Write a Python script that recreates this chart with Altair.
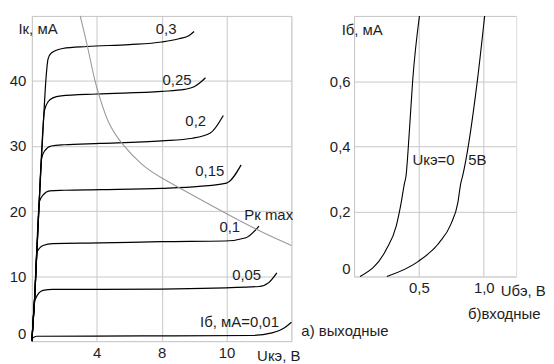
import altair as alt
import pandas as pd

FONT = "Liberation Sans"
TXT = "#1e1e1e"
GRID = "#c8c8c8"

# ---------- a) output characteristics: Uce (V) -> Ic (mA), one curve per Ib ----------
ib_names = ["0.3", "0.25", "0.2", "0.15", "0.1", "0.05", "0.01"]
uce_03 = [0, 0.18, 0.45, 0.74, 0.86, 1.0, 1.2, 1.9, 3.4, 6.0, 8.0, 9.07, 9.7, 10.0]
ic_03 = [0, 7.0, 21.3, 35.0, 40.0, 43.4, 44.3, 45.0, 45.3, 45.6, 46.0, 46.5, 47.0, 47.6]
uce_025 = [0, 0.18, 0.45, 0.78, 1.0, 1.3, 1.8, 4.0, 8.0, 9.4, 10.0, 10.4, 10.7]
ic_025 = [0, 7.0, 21.3, 35.5, 36.8, 37.4, 37.7, 38.0, 38.4, 38.7, 39.1, 39.8, 40.5]
uce_02 = [0, 0.18, 0.45, 0.6, 0.8, 1.2, 2.0, 4.2, 8.0, 9.9, 11.0, 11.8]
ic_02 = [0, 7.0, 21.3, 28.1, 29.3, 30.0, 30.2, 30.4, 30.8, 31.2, 32.0, 34.7]
uce_015 = [0, 0.18, 0.47, 0.7, 1.1, 2.0, 4.2, 8.0, 10.3, 12.0, 12.9]
ic_015 = [0, 7.0, 21.5, 22.5, 23.1, 23.2, 23.3, 23.5, 23.8, 24.3, 27.1]
uce_01 = [0, 0.18, 0.3, 0.69, 1.3, 4.2, 8.0, 11.9, 13.2, 14.0]
ic_01 = [0, 7.0, 13.6, 14.7, 15.0, 15.1, 15.3, 15.4, 15.9, 17.7]
uce_005 = [0, 0.2, 0.69, 1.3, 4.2, 8.0, 14.0, 14.6, 15.1]
ic_005 = [0, 6.4, 7.8, 7.95, 7.95, 8.0, 8.4, 9.0, 10.5]
uce_001 = [0, 0.06, 0.3, 6.8, 13.6, 14.8, 15.6, 16.0]
ic_001 = [0, 0.5, 0.75, 0.8, 0.87, 1.27, 2.1, 2.9]

# Pk max hyperbola
pk_uce = [2.98, 3.45, 3.86, 4.17, 4.68, 5.5, 6.82, 7.85, 9.07, 11.53, 13.78, 16.0]
pk_ic = [50.0, 45.2, 40.1, 37.6, 33.5, 30.4, 26.9, 25.3, 23.6, 20.2, 17.2, 14.7]

# labels on the output plot
out_lab_text = ["0,3", "0,25", "0,2", "0,15", "0,1", "0,05", "Iб, мА=0,01", "Pк max", "а) выходные"]
out_lab_u = [8.28, 8.95, 10.1, 10.97, 12.2, 13.24, 12.8, 14.6, 19.3]
out_lab_i = [48.0, 40.2, 33.8, 26.1, 17.6, 10.2, 2.9, 19.4, 1.5]

out_x_ticks = [0, 2, 4, 6, 8, 10, 12, 14, 16]
out_y_ticks = [0, 5, 10, 15, 20, 25, 30, 35, 40, 45, 50]

# ---------- b) input characteristics: Ube (V) -> Ib (mA) ----------
in_names = ["0", "5"]
ube_0 = [0.046, 0.248, 0.325, 0.363, 0.389, 0.40, 0.427, 0.452, 0.504]
ib_0 = [0.0, 0.083, 0.155, 0.226, 0.287, 0.307, 0.45, 0.602, 0.8]
ube_5 = [0.253, 0.49, 0.657, 0.746, 0.8, 0.823, 0.836, 0.951, 1.007]
ib_5 = [0.0, 0.045, 0.104, 0.16, 0.226, 0.287, 0.307, 0.602, 0.8]

in_lab_text = ["Uкэ=0", "5В", "б)входные"]
in_lab_u = [0.613, 0.95, 1.158]
in_lab_i = [0.357, 0.357, -0.116]

in_x_ticks = [0, 0.25, 0.5, 0.75, 1.0, 1.25]
in_y_ticks = [0, 0.1, 0.2, 0.3, 0.4, 0.5, 0.6, 0.7, 0.8]

# ---------- tables ----------
rows = []
for name, us, cs in zip(ib_names,
                        [uce_03, uce_025, uce_02, uce_015, uce_01, uce_005, uce_001],
                        [ic_03, ic_025, ic_02, ic_015, ic_01, ic_005, ic_001]):
    for i, (u, c) in enumerate(zip(us, cs)):
        rows.append({"ib": name, "u": u, "i": c, "o": i})
out_df = pd.DataFrame(rows)
pk_df = pd.DataFrame({"u": pk_uce, "i": pk_ic, "o": range(len(pk_uce))})
out_lab_df = pd.DataFrame({"t": out_lab_text, "u": out_lab_u, "i": out_lab_i})

rows = []
for name, us, cs in zip(in_names, [ube_0, ube_5], [ib_0, ib_5]):
    for i, (u, c) in enumerate(zip(us, cs)):
        rows.append({"uce": name, "u": u, "i": c, "o": i})
in_df = pd.DataFrame(rows)
in_lab_df = pd.DataFrame({"t": in_lab_text, "u": in_lab_u, "i": in_lab_i})

common_axis = dict(grid=True, gridColor=GRID, gridOpacity=1, gridWidth=1, domain=False,
                   ticks=False, labelFont=FONT, labelFontSize=15, labelColor=TXT,
                   titleFont=FONT, titleFontSize=15, titleColor=TXT, titleFontWeight="normal",
                   titleAngle=0, titleBaseline="middle", titleAlign="left")

ox = alt.X("u:Q", scale=alt.Scale(domain=[0, 16], nice=False, zero=False),
           axis=alt.Axis(values=out_x_ticks, title="Uкэ, В", titleX=226, titleY=14,
                         labelPadding=4,
                         labelExpr="datum.value==4 ? '4' : datum.value==8 ? '8' : datum.value==12 ? '10' : ''",
                         **common_axis))
oy = alt.Y("i:Q", scale=alt.Scale(domain=[0, 50], nice=False, zero=False),
           axis=alt.Axis(values=out_y_ticks, title="Iк, мА", titleX=-14, titleY=13,
                         labelPadding=6, labelFlush=True,
                         labelExpr="(datum.value % 10 == 0 && datum.value < 50) ? datum.value : ''",
                         **common_axis))

out_lines = alt.Chart(out_df).mark_line(color="#000000", strokeWidth=1.2, interpolate="monotone").encode(
    x=ox, y=oy, detail="ib:N", order="o:Q")
pk_line = alt.Chart(pk_df).mark_line(color="#9a9a9a", strokeWidth=1.1, interpolate="basis").encode(
    x="u:Q", y="i:Q", order="o:Q")
out_text = alt.Chart(out_lab_df).mark_text(font=FONT, fontSize=15, color=TXT).encode(
    x="u:Q", y="i:Q", text="t:N")
left = alt.layer(out_lines, pk_line, out_text).properties(width=261, height=327)

ix = alt.X("u:Q", scale=alt.Scale(domain=[0, 1.25], nice=False, zero=False),
           axis=alt.Axis(values=in_x_ticks, title="Uбэ, В", titleX=147, titleY=14,
                         labelPadding=4,
                         labelExpr="datum.value==0.5 ? '0,5' : datum.value==1 ? '1,0' : ''",
                         **common_axis))
iy = alt.Y("i:Q", scale=alt.Scale(domain=[0, 0.8], nice=False, zero=False),
           axis=alt.Axis(values=in_y_ticks, title="Iб, мА", titleX=-13, titleY=14,
                         labelPadding=4, labelFlush=True,
                         labelExpr="datum.value==0 ? '0' : abs(datum.value-0.2)<0.01 ? '0,2' : abs(datum.value-0.4)<0.01 ? '0,4' : abs(datum.value-0.6)<0.01 ? '0,6' : ''",
                         **common_axis))
in_lines = alt.Chart(in_df).mark_line(color="#000000", strokeWidth=1.1, interpolate="monotone").encode(
    x=ix, y=iy, detail="uce:N", order="o:Q")
in_text = alt.Chart(in_lab_df).mark_text(font=FONT, fontSize=15, color=TXT).encode(
    x="u:Q", y="i:Q", text="t:N")
right = alt.layer(in_lines, in_text).properties(width=163, height=262)

chart = alt.hconcat(left, right, spacing=63, bounds="flush").properties(
    padding={"left": 0, "top": 4, "right": 0, "bottom": 0}
).configure_view(stroke=GRID).configure(background="white")

chart.save("out.html", embed_options={"renderer": "svg", "actions": False})
